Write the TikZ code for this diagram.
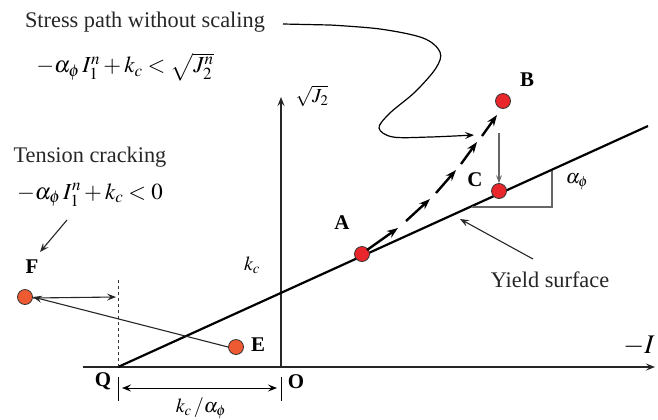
\documentclass[tikz,border=0pt]{standalone}
\usepackage{mathptmx}
\usepackage[no-math]{fontspec}
\setmainfont{Liberation Serif}
\usetikzlibrary{arrows.meta}
\definecolor{dotA}{HTML}{E8262B}
\definecolor{dotE}{HTML}{EE5A32}
\definecolor{lgray}{HTML}{666666}
\tikzset{
  reddot/.style={circle,draw=black!80,line width=0.8bp,fill=dotA,minimum size=15bp,inner sep=0pt},
  oradot/.style={circle,draw=black!80,line width=0.8bp,fill=dotE,minimum size=15bp,inner sep=0pt},
  lbl/.style={font=\fontsize{21}{24}\selectfont\bfseries,inner sep=0pt},
  txt/.style={font=\fontsize{22.4}{26}\selectfont,inner sep=0pt,text=black!85},
  mth/.style={font=\fontsize{20}{24}\selectfont,inner sep=0pt},
  bigmth/.style={font=\fontsize{23}{27}\selectfont,inner sep=0pt},
  thinarr/.style={line width=1.1bp,-{Stealth[length=9bp,width=7bp,inset=3.5bp]}},
  patharr/.style={line width=2.4bp,-{Stealth[length=11bp,width=8bp]}},
  axis/.style={line width=1.3bp,black!85}
}
\begin{document}
\begin{tikzpicture}[x=1bp,y=-1bp]
\useasboundingbox (0,0) rectangle (658,419);
% axes
\coordinate (Q) at (118,367);
\coordinate (O) at (281,367);
\coordinate (xs) at (83,367);
\coordinate (xe) at (655,367);
\coordinate (ye) at (281,97);
\draw[axis,-{Stealth[length=9bp,width=7bp,inset=3.5bp]}] (xs) -- (xe);
\draw[axis,-{Stealth[length=9bp,width=7bp,inset=3.5bp]}] (O) -- (ye);
% yield line
\coordinate (Ye) at (648,126);
\draw[line width=2.2bp] (Q) -- (Ye);
% slope triangle
\coordinate (t1) at (472,207);
\coordinate (t2) at (552,207);
\coordinate (t3) at (552,171);
\draw[lgray,line width=1.1bp] (t1) -- (t2) -- (t3);
\node[mth] (alpha) at (577,182) {$\alpha_\phi$};
% dashed vertical
\coordinate (dv) at (118,280);
\draw[dashed,line width=0.9bp,black!80] (Q) -- (dv);
% dots
\node[reddot] (A) at (362,254) {};
\node[reddot] (B) at (503,101) {};
\node[reddot] (C) at (499,191) {};
\node[oradot] (E) at (236,347) {};
\node[oradot] (F) at (25,297) {};
% labels
\node[lbl] at (342,223) {A};
\node[lbl] at (527,80) {B};
\node[lbl] at (475,180) {C};
\node[lbl] at (258,345) {E};
\node[lbl] at (32,267) {F};
\node[lbl] at (103,381) {Q};
\node[lbl] at (296,382) {O};
% stress path arrows
\coordinate (p1a) at (367,250); \coordinate (p1b) at (398,228);
\coordinate (p2a) at (406,221); \coordinate (p2b) at (430,199);
\coordinate (p3a) at (436,193); \coordinate (p3b) at (456,170);
\coordinate (p4a) at (461,164); \coordinate (p4b) at (477,142);
\coordinate (p5a) at (482,136); \coordinate (p5b) at (497,115);
\draw[patharr] (p1a) -- (p1b);
\draw[patharr] (p2a) -- (p2b);
\draw[patharr] (p3a) -- (p3b);
\draw[patharr] (p4a) -- (p4b);
\draw[patharr] (p5a) -- (p5b);
% B to C
\coordinate (bc1) at (499,133);
\draw[lgray,line width=1.1bp,-{Stealth[length=8bp,width=6bp,inset=3bp]}] (bc1) -- (C.north);
% E to F and F to dashed
\draw[thinarr,black!85] (E.west) -- (F.east);
\coordinate (fd) at (116,297);
\draw[thinarr,black!85] ([yshift=-1bp]F.east) -- (fd);
% dimension
\coordinate (d1a) at (118,377); \coordinate (d1b) at (118,401);
\coordinate (d2a) at (281,377); \coordinate (d2b) at (281,401);
\draw[line width=1bp] (d1a) -- (d1b);
\draw[line width=1bp] (d2a) -- (d2b);
\coordinate (da) at (122,388); \coordinate (db) at (277,388);
\draw[line width=1bp,{Stealth[length=9bp,width=7bp,inset=3.5bp]}-{Stealth[length=9bp,width=7bp,inset=3.5bp]}] (da) -- (db);
\node[mth] (kca) at (201,408) {$k_c\,/\alpha_\phi$};
\node[mth] (kc) at (252,265) {$k_c$};
\node[mth] (sj) at (312,96) {$\sqrt{J_2}$};
\node[font=\fontsize{27}{30}\selectfont,inner sep=0pt] (mi) at (639,346) {$-I$};
% yield surface
\node[txt] (ys) at (550,280) {Yield surface};
\coordinate (ya) at (533,259); \coordinate (yb) at (460,219);
\draw[thinarr,black!85] (ya) -- (yb);
% tension cracking
\node[txt] (tc) at (90,157) {Tension cracking};
\node[bigmth] (f2) at (90,195) {$-\alpha_\phi\, I_1^n + k_c < 0$};
\coordinate (ta) at (67,220); \coordinate (tb) at (40,252);
\draw[thinarr,black!85] (ta) -- (tb);
% stress path without scaling
\node[txt] (sp) at (145,22) {Stress path without scaling};
\node[bigmth] (f1) at (125,67) {$-\alpha_\phi\, I_1^n + k_c < \sqrt{J_2^n}$};
\coordinate (s0) at (283,24);
\draw[line width=1.2bp,-{Stealth[length=9bp,width=7bp,inset=3.5bp]}] (s0) -- (330,25) plot[smooth,tension=0.55] coordinates {(330,25) (380,29) (423,38) (440,52) (436,68) (415,92) (390,113) (379,128) (393,137) (430,137) (474,135)};
\end{tikzpicture}
\end{document}
